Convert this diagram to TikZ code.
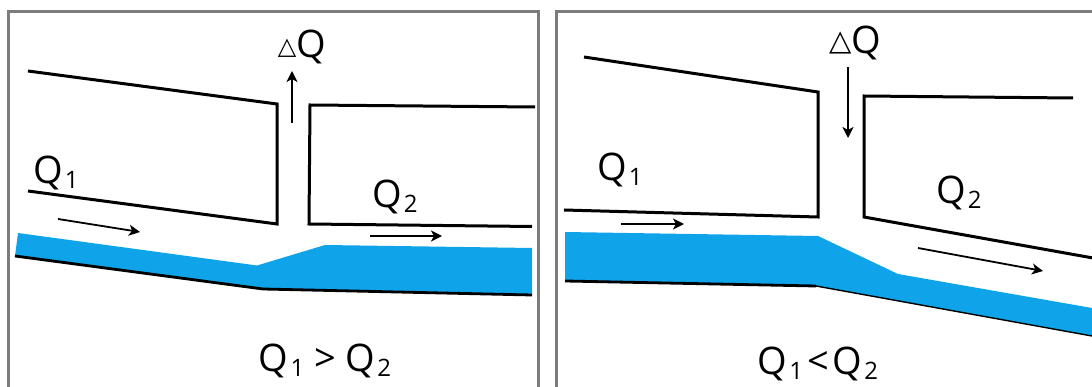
\documentclass[tikz,border=0pt]{standalone}
\usepackage{fontspec}
\setmainfont{Open Sans}
\newfontfamily\symfont{DejaVu Sans}
\usetikzlibrary{arrows.meta}

\definecolor{waterblue}{HTML}{0FA3EA}
\definecolor{framegray}{HTML}{7C7C7C}

\newcommand{\flowlabel}[1]{Q\kern2pt\raisebox{-4.5pt}{\fontsize{24}{24}\selectfont #1}}

\tikzset{
  panel/.style={draw=framegray, line width=3pt},
  wall/.style={draw=black, line width=3pt, line join=miter},
  water/.style={fill=waterblue, draw=none},
  bed/.style={draw=black, line width=2.8pt},
  flow/.style={-{Stealth[length=11pt, width=11pt, inset=3pt]}, draw=black, line width=1.8pt},
  label/.style={inner sep=0pt, font=\fontsize{38}{38}\selectfont},
}

\begin{document}
\begin{tikzpicture}[x=1pt, y=-1pt]
\useasboundingbox (0,0) rectangle (1092,387);

% Left panel
\draw[panel] (8,388) -- (8,12) -- (538,12) -- (538,388);

% Channel walls
\draw[wall] (28,71) -- (277,104) -- (277,224) -- (28,191);
\draw[wall] (535,107) -- (310,105) -- (309,224) -- (532,226.5);

% Water
\fill[water] (18,233) -- (257,265.5) -- (325,245) -- (532,248) -- (532,295) -- (263,289) -- (15,256) -- cycle;
\draw[bed] (15,256) -- (263,289) -- (532,295);

% Flow arrows
\draw[flow] (58,219) -- (140,232);
\draw[flow] (370,236) -- (442,236);
\draw[flow] (292,123) -- (292,71);

% Labels
\node[label] (q1left) at (56,173) {\flowlabel{1}};
\node[label] (q2left) at (395,197) {\flowlabel{2}};
\node[label] (dqleft) at (302,47) {\raisebox{3pt}{\symfont\fontsize{24}{24}\selectfont △}Q};
\node[label] (cmpleft) at (325,361) {\flowlabel{1} > \flowlabel{2}};

% Right panel
\draw[panel] (556,388) -- (556,12) -- (1093,12);

% Channel walls
\draw[wall] (584,57) -- (818,92) -- (818,217) -- (564,210);
\draw[wall] (1073,98) -- (864,96) -- (864,217) -- (1093,258);

% Water
\fill[water] (565,232) -- (818,236) -- (898,274) -- (1092,308) -- (1092,336) -- (816,286) -- (565,281) -- cycle;
\draw[bed] (565,281) -- (816,286);
\draw[bed, line width=1.4pt] (816,286) -- (1092,336);

% Flow arrows
\draw[flow] (621,224) -- (684,224);
\draw[flow] (848,67) -- (848,138);
\draw[flow] (918,248) -- (1043,271);

% Labels
\node[label] (q1right) at (620,170) {\flowlabel{1}};
\node[label] (q2right) at (959,193) {\flowlabel{2}};
\node[label] (dqright) at (855,43) {\raisebox{3pt}{\symfont\fontsize{29}{29}\selectfont △}Q};
\node[label] (cmpright) at (818,364) {\flowlabel{1}\kern4pt<\kern4pt\flowlabel{2}};

\end{tikzpicture}
\end{document}
